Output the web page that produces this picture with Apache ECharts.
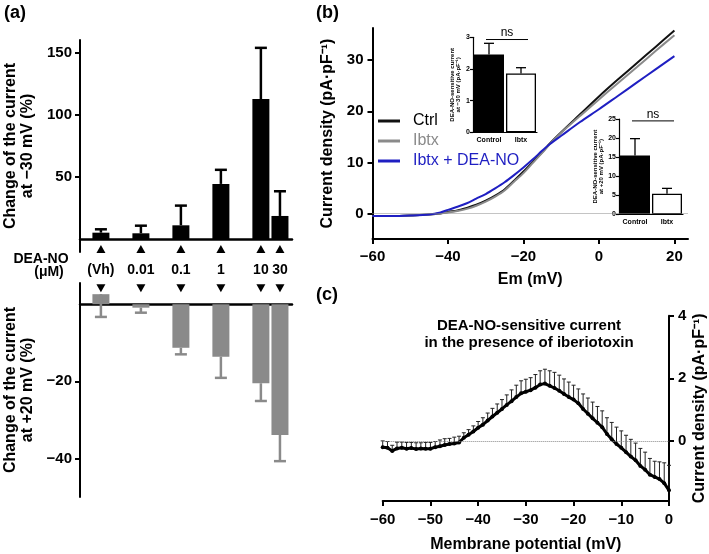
<!DOCTYPE html>
<html>
<head>
<meta charset="utf-8">
<script src="https://cdn.jsdelivr.net/npm/echarts@6.0.0/dist/echarts.min.js"></script>
<style>
  html, body { margin: 0; padding: 0; background: #fff; }
  #chart { width: 709px; height: 554px; }
</style>
</head>
<body>
<div id="chart"></div>
<script>
// (a) dose–response, DEA-NO concentration (µM); vehicle drawn at 0.001
var concs = [0.001, 0.01, 0.1, 1, 10, 30];
var concLabels = ['(Vh)', '0.01', '0.1', '1', '10', '30'];
var changeM30 = [5.5, 5, 11.4, 44.6, 112.7, 18.9];
var changeM30Err = [2.7, 6.1, 15.8, 11.3, 41, 19.8];
var changeP20 = [2.6, -0.9, -11.3, -13.6, -20.5, -33.9];
var changeP20Err = [5.9, 1.3, 1.7, 5.5, 4.6, 6.8];   // drawn downward

// (b) I-V curves
var emB = [-60, -55, -50, -45, -42, -40, -37.5, -35, -32.5, -30, -27.5, -25, -22.5, -20, -17.5, -15, -13, -10, -5, 0, 5, 10, 15, 20];
var ctrlB = [-0.5, -0.5, -0.4, -0.2, 0.0, 0.3, 0.6, 1.1, 1.7, 2.5, 3.5, 4.7, 6.4, 8.2, 10.1, 12.0, 13.7, 15.9, 19.4, 22.9, 26.2, 29.4, 32.6, 35.8];
var ibtxB = [-0.5, -0.5, -0.4, -0.2, 0.0, 0.2, 0.5, 0.9, 1.5, 2.3, 3.3, 4.5, 6.2, 7.9, 9.9, 11.9, 13.6, 15.8, 19.1, 22.3, 25.5, 28.6, 31.8, 34.9];
var ibtxDeaB = [-0.5, -0.5, -0.4, -0.2, 0.2, 0.7, 1.3, 2.0, 2.9, 3.8, 4.9, 6.1, 7.5, 9.0, 10.6, 12.3, 13.6, 15.2, 17.9, 20.4, 23.0, 25.6, 28.2, 30.8];

// (b) insets
var insetCats = ['Control', 'Ibtx'];
var inset30 = [2.46, 1.86];
var inset30Err = [0.35, 0.18];
var inset20 = [15.4, 5.4];
var inset20Err = [4.45, 1.4];
var nsLevel30 = 2.93;
var nsLevel20 = 24.5;

// (c) DEA-NO-sensitive current, mean + SEM
var emC = [-60, -59, -58, -57, -56, -55, -54, -53, -52, -51, -50, -49, -48, -47, -46, -45, -44, -43, -42, -41, -40,
  -39, -38, -37, -36, -35, -34, -33, -32, -31, -30, -29, -28, -27, -26, -25, -24, -23, -22, -21, -20,
  -19, -18, -17, -16, -15, -14, -13, -12, -11, -10, -9, -8, -7, -6, -5, -4, -3, -2, -1, 0];
var meanC = [-0.2, -0.22, -0.32, -0.24, -0.22, -0.25, -0.23, -0.26, -0.24, -0.25, -0.25,
  -0.2, -0.17, -0.13, -0.1, -0.08, -0.05,
  0.1, 0.2, 0.3, 0.42, 0.52, 0.65,
  0.78, 0.9, 1.02, 1.15, 1.27, 1.4,
  1.52, 1.57, 1.62, 1.7, 1.8, 1.83, 1.76,
  1.69, 1.6, 1.5, 1.4, 1.32, 1.2, 1.02, 0.87, 0.72, 0.58,
  0.44, 0.22, 0.05, -0.1, -0.22, -0.36, -0.5, -0.62, -0.8, -0.92,
  -1.08, -1.15, -1.22, -1.35, -1.58];
var semC = [0.2, 0.2, 0.18, 0.2, 0.18, 0.2, 0.18, 0.2, 0.18, 0.2, 0.2,
  0.18, 0.2, 0.2, 0.18, 0.2, 0.2,
  0.16, 0.16, 0.18, 0.2, 0.22, 0.24,
  0.26, 0.28, 0.3, 0.32, 0.36, 0.38,
  0.4, 0.4, 0.4, 0.42, 0.44, 0.46, 0.48,
  0.5, 0.5, 0.48, 0.48, 0.46, 0.46, 0.48, 0.5, 0.52, 0.52,
  0.52, 0.52, 0.54, 0.54, 0.54, 0.54, 0.55, 0.55, 0.56, 0.56,
  0.52, 0.5, 0.55, 0.65, 0.8];

var FONT = "'Liberation Sans', Arial, Helvetica, sans-serif";
var BLUE = '#1f1fc2';
var GREY = '#8a8a8a';

function minus(v) { return String(v).replace('-', '\u2212'); }
function zip3(a, b, c) { return a.map(function (v, i) { return [v, b[i], c[i]]; }); }

// bar + one-sided error bar on the log dose axis
function changeBar(dir, color) {
  return function (params, api) {
    var x = api.value(0), m = api.value(1), e = api.value(2);
    var base = api.coord([x, 0]);
    var end = api.coord([x, m]);
    var tip = api.coord([x, m + dir * e]);
    var w = 17, cap = 12;
    return {
      type: 'group',
      children: [
        { type: 'rect', shape: { x: base[0] - w / 2, y: Math.min(base[1], end[1]), width: w, height: Math.abs(end[1] - base[1]) }, style: { fill: color } },
        { type: 'line', shape: { x1: end[0], y1: end[1], x2: tip[0], y2: tip[1] }, style: { stroke: color, lineWidth: 2.5 } },
        { type: 'line', shape: { x1: tip[0] - cap / 2, y1: tip[1], x2: tip[0] + cap / 2, y2: tip[1] }, style: { stroke: color, lineWidth: 2.5 } }
      ]
    };
  };
}

function doseUp(params, api) {
  var p = api.coord([api.value(0), 0]);
  return {
    type: 'group',
    children: [
      { type: 'polygon', shape: { points: [[p[0], p[1] + 5.5], [p[0] - 4.5, p[1] + 13.5], [p[0] + 4.5, p[1] + 13.5]] }, style: { fill: '#000' } },
      { type: 'text', x: p[0], y: p[1] + 31, style: { text: concLabels[api.value(1)], fill: '#000', font: 'bold 14px ' + FONT, align: 'center', verticalAlign: 'middle' } }
    ]
  };
}

function doseDown(params, api) {
  var p = api.coord([api.value(0), 0]);
  return {
    type: 'polygon',
    shape: { points: [[p[0] - 4.5, p[1] - 20], [p[0] + 4.5, p[1] - 20], [p[0], p[1] - 12]] },
    style: { fill: '#000' }
  };
}

function errUp(cap, width, color) {
  return function (params, api) {
    var x = api.value(0), m = api.value(1), e = api.value(2);
    var a = api.coord([x, m]), b = api.coord([x, m + e]);
    return {
      type: 'group',
      children: [
        { type: 'line', shape: { x1: a[0], y1: a[1], x2: b[0], y2: b[1] }, style: { stroke: color, lineWidth: width } },
        { type: 'line', shape: { x1: b[0] - cap / 2, y1: b[1], x2: b[0] + cap / 2, y2: b[1] }, style: { stroke: color, lineWidth: width } }
      ]
    };
  };
}

function nsBracket(params, api) {
  var a = api.coord([api.value(0), api.value(2)]);
  var b = api.coord([api.value(1), api.value(2)]);
  return {
    type: 'group',
    children: [
      { type: 'line', shape: { x1: a[0] - 3, y1: a[1], x2: b[0] + 7, y2: a[1] }, style: { stroke: '#000', lineWidth: 1 } },
      { type: 'text', x: (a[0] + b[0]) / 2 + 2, y: a[1] - 0.5, style: { text: 'ns', fill: '#000', font: '12px ' + FONT, align: 'center', verticalAlign: 'bottom' } }
    ]
  };
}

var bigName = { fontSize: 16, fontWeight: 'bold', color: '#000', fontFamily: FONT, lineHeight: 17 };
var tinyLabel = { fontSize: 7, fontWeight: 'bold', color: '#000', fontFamily: FONT };
var tinyName = { fontSize: 6, fontWeight: 'bold', color: '#000', fontFamily: FONT, lineHeight: 6 };

function blackLine(w) { return { lineStyle: { color: '#000', width: w } }; }

var chart = echarts.init(document.getElementById('chart'), null, { renderer: 'canvas' });

var option = {
  animation: false,
  backgroundColor: '#fff',
  textStyle: { fontFamily: FONT },
  title: {
    text: 'DEA-NO-sensitive current\nin the presence of iberiotoxin',
    left: 529, top: 317, padding: 0, textAlign: 'center',
    textStyle: { fontSize: 15, fontWeight: 'bold', lineHeight: 17, color: '#000', fontFamily: FONT }
  },
  legend: {
    data: [
      { name: 'Ctrl', textStyle: { color: '#000' } },
      { name: 'Ibtx', textStyle: { color: GREY } },
      { name: 'Ibtx + DEA-NO', textStyle: { color: BLUE } }
    ],
    orient: 'vertical', left: 378, top: 113, padding: 0,
    itemWidth: 22, itemHeight: 3, itemGap: 4, icon: 'rect', selectedMode: false,
    textStyle: { fontSize: 16, fontFamily: FONT, padding: [0, 0, 0, 8] }
  },
  graphic: [
    { type: 'text', left: 4, top: 4, style: { text: '(a)', font: 'bold 18px ' + FONT, fill: '#000' } },
    { type: 'text', left: 316, top: 4, style: { text: '(b)', font: 'bold 18px ' + FONT, fill: '#000' } },
    { type: 'text', left: 316, top: 286, style: { text: '(c)', font: 'bold 18px ' + FONT, fill: '#000' } },
    { type: 'text', x: 41, y: 259, style: { text: 'DEA-NO', font: 'bold 14px ' + FONT, fill: '#000', align: 'center', verticalAlign: 'middle' } },
    { type: 'text', x: 49, y: 272, style: { text: '(\u03bcM)', font: 'bold 14px ' + FONT, fill: '#000', align: 'center', verticalAlign: 'middle' } }
  ],
  grid: [
    { left: 80, top: 40, width: 212, height: 212 },        // (a) top
    { left: 80, top: 283, width: 212, height: 214 },       // (a) bottom
    { left: 372.5, top: 28, width: 315.5, height: 211 },   // (b)
    { left: 473, top: 37.3, width: 64, height: 95 },       // (b) inset -30 mV
    { left: 619, top: 119, width: 64, height: 95.3 },      // (b) inset +20 mV
    { left: 382.7, top: 315.7, width: 287.3, height: 186.6 } // (c)
  ],
  xAxis: [
    { gridIndex: 0, type: 'log', min: 0.0003, max: 60, axisLine: { onZero: true, lineStyle: { color: '#000', width: 2.5 } }, axisTick: { show: false }, axisLabel: { show: false }, splitLine: { show: false } },
    { gridIndex: 1, type: 'log', min: 0.0003, max: 60, axisLine: { onZero: true, lineStyle: { color: '#000', width: 2.5 } }, axisTick: { show: false }, axisLabel: { show: false }, splitLine: { show: false } },
    {
      gridIndex: 2, type: 'value', min: -60, max: 23.6,
      axisLine: { onZero: false, lineStyle: { color: '#000', width: 2 } },
      axisTick: { customValues: [-60, -40, -20, 0, 20], length: 5, lineStyle: { color: '#000', width: 2 } },
      axisLabel: { customValues: [-60, -40, -20, 0, 20], formatter: minus, margin: 10, fontSize: 15, fontWeight: 'bold', color: '#000', fontFamily: FONT },
      splitLine: { show: false },
      name: 'Em (mV)', nameLocation: 'middle', nameGap: 32, nameTextStyle: bigName
    },
    { gridIndex: 3, type: 'category', data: insetCats, axisLine: blackLine(1.2), axisTick: { show: false }, axisLabel: Object.assign({ margin: 4, interval: 0, hideOverlap: false }, tinyLabel) },
    { gridIndex: 4, type: 'category', data: insetCats, axisLine: blackLine(1.2), axisTick: { show: false }, axisLabel: Object.assign({ margin: 4, interval: 0, hideOverlap: false }, tinyLabel) },
    {
      gridIndex: 5, type: 'value', min: -60, max: 0, interval: 10,
      axisLine: { onZero: false, lineStyle: { color: '#000', width: 2 } },
      axisTick: { length: 5, lineStyle: { color: '#000', width: 2 } },
      axisLabel: { formatter: minus, margin: 11, fontSize: 15, fontWeight: 'bold', color: '#000', fontFamily: FONT },
      splitLine: { show: false },
      name: 'Membrane potential (mV)', nameLocation: 'middle', nameGap: 35, nameTextStyle: bigName
    }
  ],
  yAxis: [
    {
      gridIndex: 0, type: 'value', min: -10, max: 160,
      axisLine: { show: true, onZero: false, lineStyle: { color: '#000', width: 2 } },
      axisTick: { show: true, customValues: [50, 100, 150], length: 5, lineStyle: { color: '#000', width: 2 } },
      axisLabel: { customValues: [50, 100, 150], margin: 8, fontSize: 15, fontWeight: 'bold', color: '#000', fontFamily: FONT },
      splitLine: { show: false },
      name: 'Change of the current\nat \u221230 mV (%)', nameLocation: 'middle', nameGap: 44, nameRotate: 90, nameTextStyle: bigName
    },
    {
      gridIndex: 1, type: 'value', min: -50, max: 5.5,
      axisLine: { show: true, onZero: false, lineStyle: { color: '#000', width: 2 } },
      axisTick: { show: true, customValues: [-20, -40], length: 5, lineStyle: { color: '#000', width: 2 } },
      axisLabel: { customValues: [-20, -40], formatter: minus, margin: 8, fontSize: 15, fontWeight: 'bold', color: '#000', fontFamily: FONT },
      splitLine: { show: false },
      name: 'Change of the current\nat +20 mV (%)', nameLocation: 'middle', nameGap: 44, nameRotate: 90, nameTextStyle: bigName
    },
    {
      gridIndex: 2, type: 'value', min: -5, max: 36.3,
      axisLine: { show: true, onZero: false, lineStyle: { color: '#000', width: 2 } },
      axisTick: { show: true, customValues: [0, 10, 20, 30], length: 5, lineStyle: { color: '#000', width: 2 } },
      axisLabel: { customValues: [0, 10, 20, 30], margin: 9, fontSize: 15, fontWeight: 'bold', color: '#000', fontFamily: FONT },
      splitLine: { show: false },
      name: 'Current density (pA\u00b7pF\u207b\u00b9)', nameLocation: 'middle', nameGap: 36, nameRotate: 90, nameTextStyle: bigName
    },
    {
      gridIndex: 3, type: 'value', min: 0, max: 3, interval: 1,
      axisLine: { show: true, onZero: false, lineStyle: { color: '#000', width: 1.2 } },
      axisTick: { show: true, length: 3, lineStyle: { color: '#000', width: 1.2 } },
      axisLabel: Object.assign({ margin: 3 }, tinyLabel),
      splitLine: { show: false },
      name: 'DEA-NO-sensitive current\nat \u221230 mV (pA\u00b7pF\u207b\u00b9)', nameLocation: 'middle', nameGap: 12, nameRotate: 90, nameTextStyle: tinyName
    },
    {
      gridIndex: 4, type: 'value', min: 0, max: 25, interval: 5,
      axisLine: { show: true, onZero: false, lineStyle: { color: '#000', width: 1.2 } },
      axisTick: { show: true, length: 3, lineStyle: { color: '#000', width: 1.2 } },
      axisLabel: Object.assign({ margin: 3 }, tinyLabel),
      splitLine: { show: false },
      name: 'DEA-NO-sensitive current\nat +20 mV (pA\u00b7pF\u207b\u00b9)', nameLocation: 'middle', nameGap: 14, nameRotate: 90, nameTextStyle: tinyName
    },
    {
      gridIndex: 5, type: 'value', position: 'right', min: -1.92, max: 4,
      axisLine: { show: true, onZero: false, lineStyle: { color: '#000', width: 2 } },
      axisTick: { show: true, customValues: [0, 2, 4], length: 5, lineStyle: { color: '#000', width: 2 } },
      axisLabel: { customValues: [0, 2, 4], margin: 9, fontSize: 15, fontWeight: 'bold', color: '#000', fontFamily: FONT },
      splitLine: { show: false },
      name: 'Current density (pA\u00b7pF\u207b\u00b9)', nameLocation: 'middle', nameGap: 22, nameRotate: 90, nameTextStyle: bigName
    }
  ],
  series: [
    // (a)
    { type: 'custom', name: 'change -30', xAxisIndex: 0, yAxisIndex: 0, clip: false, renderItem: changeBar(1, '#000'), data: zip3(concs, changeM30, changeM30Err) },
    { type: 'custom', name: 'change +20', xAxisIndex: 1, yAxisIndex: 1, clip: false, renderItem: changeBar(-1, GREY), data: zip3(concs, changeP20, changeP20Err) },
    { type: 'custom', name: 'dose up', xAxisIndex: 0, yAxisIndex: 0, clip: false, silent: true, renderItem: doseUp, data: concs.map(function (c, i) { return [c, i]; }) },
    { type: 'custom', name: 'dose down', xAxisIndex: 1, yAxisIndex: 1, clip: false, silent: true, renderItem: doseDown, data: concs.map(function (c, i) { return [c, i]; }) },
    // (b)
    {
      type: 'line', name: 'Ctrl', xAxisIndex: 2, yAxisIndex: 2, showSymbol: false, smooth: 0.3,
      lineStyle: { color: '#111', width: 2 }, itemStyle: { color: '#111' },
      data: emB.map(function (v, i) { return [v, ctrlB[i]]; }),
      markLine: { silent: true, symbol: 'none', label: { show: false }, lineStyle: { color: '#888', type: 'dotted', width: 1 }, data: [{ yAxis: 0 }] }
    },
    {
      type: 'line', name: 'Ibtx', xAxisIndex: 2, yAxisIndex: 2, showSymbol: false, smooth: 0.3,
      lineStyle: { color: GREY, width: 2 }, itemStyle: { color: GREY },
      data: emB.map(function (v, i) { return [v, ibtxB[i]]; })
    },
    {
      type: 'line', name: 'Ibtx + DEA-NO', xAxisIndex: 2, yAxisIndex: 2, showSymbol: false, smooth: 0.3,
      lineStyle: { color: BLUE, width: 2 }, itemStyle: { color: BLUE },
      data: emB.map(function (v, i) { return [v, ibtxDeaB[i]]; })
    },
    // (b) insets
    {
      type: 'bar', name: 'inset -30', xAxisIndex: 3, yAxisIndex: 3, barWidth: 30,
      data: inset30.map(function (v, i) { return { value: v, itemStyle: i === 0 ? { color: '#000' } : { color: '#fff', borderColor: '#000', borderWidth: 1.3 } }; })
    },
    { type: 'custom', name: 'inset -30 err', xAxisIndex: 3, yAxisIndex: 3, clip: false, renderItem: errUp(10, 1.3, '#000'), data: zip3([0, 1], inset30, inset30Err) },
    { type: 'custom', name: 'inset -30 ns', xAxisIndex: 3, yAxisIndex: 3, clip: false, renderItem: nsBracket, data: [[0, 1, nsLevel30]] },
    {
      type: 'bar', name: 'inset +20', xAxisIndex: 4, yAxisIndex: 4, barWidth: 30,
      data: inset20.map(function (v, i) { return { value: v, itemStyle: i === 0 ? { color: '#000' } : { color: '#fff', borderColor: '#000', borderWidth: 1.3 } }; })
    },
    { type: 'custom', name: 'inset +20 err', xAxisIndex: 4, yAxisIndex: 4, clip: false, renderItem: errUp(10, 1.3, '#000'), data: zip3([0, 1], inset20, inset20Err) },
    { type: 'custom', name: 'inset +20 ns', xAxisIndex: 4, yAxisIndex: 4, clip: false, renderItem: nsBracket, data: [[0, 1, nsLevel20]] },
    // (c)
    { type: 'custom', name: 'SEM', xAxisIndex: 5, yAxisIndex: 5, clip: false, renderItem: errUp(4, 1, '#222'), data: zip3(emC, meanC, semC) },
    {
      type: 'line', name: 'DEA-NO-sensitive', xAxisIndex: 5, yAxisIndex: 5,
      symbol: 'circle', symbolSize: 4, lineStyle: { color: '#000', width: 3 }, itemStyle: { color: '#000' },
      data: emC.map(function (v, i) { return [v, meanC[i]]; }),
      markLine: { silent: true, symbol: 'none', label: { show: false }, lineStyle: { color: '#888', type: 'dotted', width: 1 }, data: [{ yAxis: 0 }] }
    }
  ]
};

chart.setOption(option);
</script>
</body>
</html>
